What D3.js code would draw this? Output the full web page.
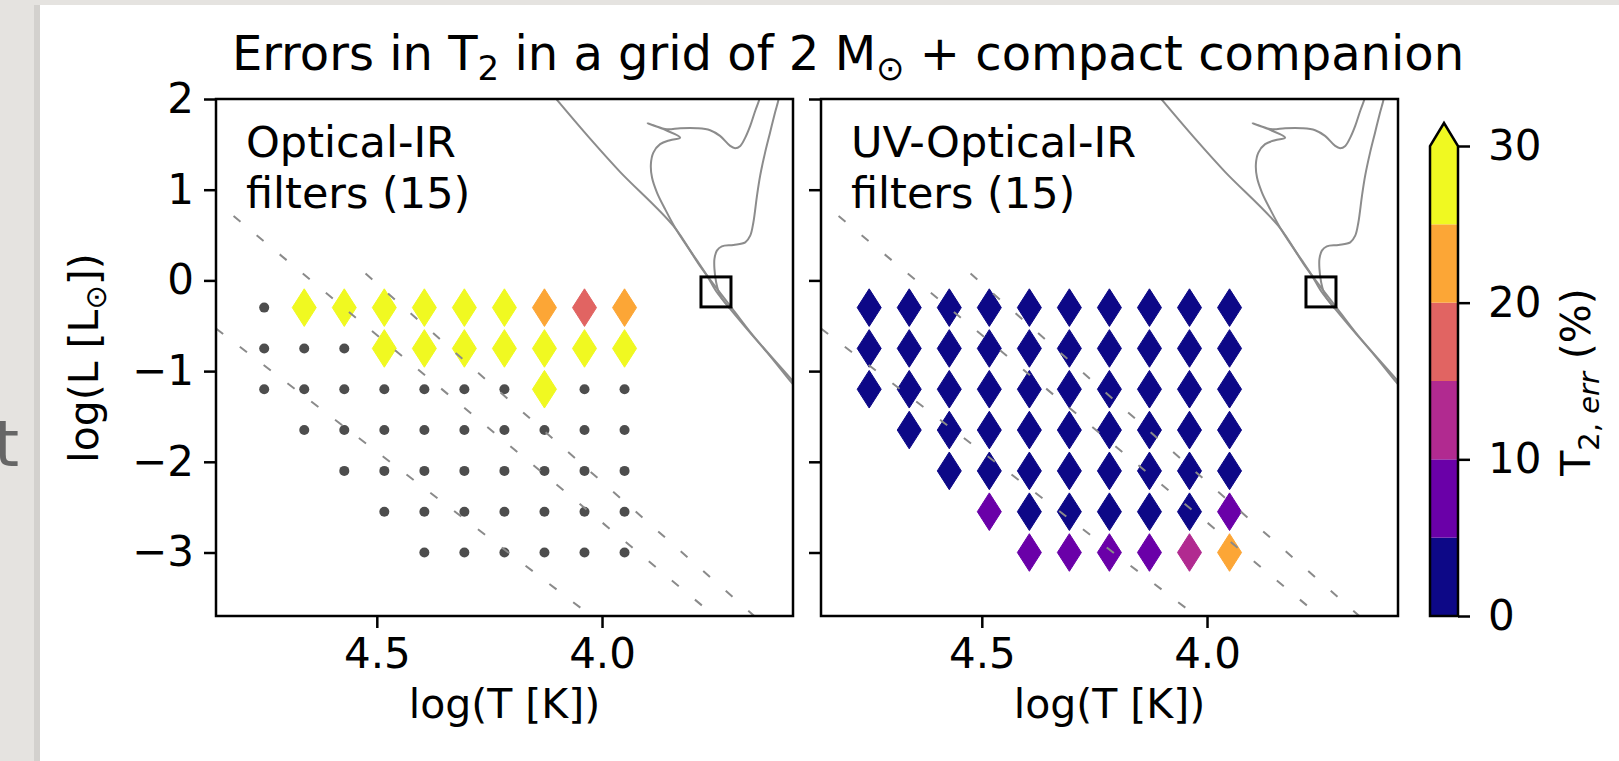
<!DOCTYPE html>
<html>
<head>
<meta charset="utf-8">
<script src="https://cdn.jsdelivr.net/npm/d3@7"></script>
<style>
  body { margin: 0; background: #e5e3e0; }
  svg { display: block; font-family: "DejaVu Sans", sans-serif; }
</style>
</head>
<body>
<svg id="chart" width="1619" height="761"></svg>
<script>
// grid of secondary temperatures / luminosities
var gridLogT = [4.75, 4.6611, 4.5722, 4.4833, 4.3944, 4.3056, 4.2167, 4.1278, 4.0389, 3.95];
var gridLogL = [-0.3, -0.75, -1.2, -1.65, -2.1, -2.55, -3.0];
// first column present in each row
var rowStart = [0, 0, 0, 1, 2, 3, 4];

// T2 errors (%) per grid point, null = fit not flagged (plotted as dot)
var errOpticalIR = [
  [null, 31, 33, 30, 29, 32, 28, 23.5, 18.2, 22.1],
  [null, null, null, 34, 31, 29, 30, 27.5, 28, 26.8],
  [null, null, null, null, null, null, null, 26.2, null, null],
  [null, null, null, null, null, null, null, null, null],
  [null, null, null, null, null, null, null, null],
  [null, null, null, null, null, null, null],
  [null, null, null, null, null, null],
];
var errUVOpticalIR = [
  [2.1, 1.8, 1.5, 1.4, 1.2, 1.3, 1.1, 1.6, 2.0, 2.4],
  [2.3, 1.9, 1.6, 1.5, 1.3, 1.2, 1.4, 1.7, 2.2, 2.8],
  [2.8, 2.2, 1.9, 1.7, 1.5, 1.6, 1.8, 2.1, 2.6, 3.3],
  [2.9, 2.4, 2.0, 1.9, 2.1, 2.3, 2.7, 3.1, 3.8],
  [3.4, 2.9, 2.6, 2.5, 2.8, 3.2, 3.9, 4.6],
  [6.2, 4.1, 3.7, 3.6, 3.9, 4.5, 7.8],
  [7.1, 6.8, 8.3, 9.2, 13.5, 22.4],
];

var binEdges = [0, 5, 10, 15, 20, 25, 30];
var binColors = ["#0d0887", "#6a00a8", "#b12a90", "#e16462", "#fca636", "#f0f921"];
var cbTicks = [0, 10, 20, 30];
var xTicks = [4.5, 4.0];
var yTicks = [2, 1, 0, -1, -2, -3];

// dashed constant-radius lines, [logT0, logL0, logT1, logL1]
var radiusLines = [
  [4.818, 0.71, 3.75, -3.7],
  [4.857, -0.53, 4.024, -3.7],
  [4.525, 0.075, 3.662, -3.7],
];

// evolutionary tracks, [logT, logL]
var trackZams = [[4.11, 2.05], [4.10, 1.99], [4.026, 1.56], [3.96, 1.197], [3.842, 0.603],
  [3.783, 0.163], [3.745, -0.09], [3.716, -0.277], [3.665, -0.607], [3.576, -1.113], [3.55, -1.27]];
var trackLoop = [[3.648, 2.05], [3.6505, 1.997], [3.66, 1.868], [3.671, 1.703], [3.682, 1.574],
  [3.693, 1.483], [3.7045, 1.458], [3.7155, 1.483], [3.738, 1.593], [3.76, 1.656], [3.789, 1.678],
  [3.8265, 1.678], [3.856, 1.667], [3.886, 1.711], [3.899, 1.733], [3.8635, 1.667], [3.8265, 1.574],
  [3.849, 1.546], [3.871, 1.502], [3.886, 1.409], [3.8915, 1.282], [3.889, 1.134], [3.878, 0.969],
  [3.86, 0.787], [3.838, 0.584], [3.812, 0.383], [3.789, 0.218], [3.767, 0.053], [3.745, -0.131],
  [3.7155, -0.314], [3.6785, -0.534], [3.634, -0.791], [3.579, -1.128], [3.55, -1.3]];
var trackCool = [[3.607, 2.05], [3.608, 1.997], [3.616, 1.849], [3.627, 1.629], [3.638, 1.409],
  [3.649, 1.153], [3.656, 0.933], [3.664, 0.639], [3.671, 0.493], [3.682, 0.419], [3.708, 0.391],
  [3.734, 0.375], [3.745, 0.328], [3.7504, 0.237], [3.7504, 0.127], [3.7466, -0.021], [3.7377, -0.167],
  [3.716, -0.31]];

var companionBox = [3.747, -0.127];

var panels = [
  { label: ["Optical-IR", "filters (15)"], errs: errOpticalIR, x0: 216, showY: true },
  { label: ["UV-Optical-IR", "filters (15)"], errs: errUVOpticalIR, x0: 821, showY: false },
];

var svg = d3.select("#chart");
var W = +svg.attr("width"), H = +svg.attr("height");
var pw = 577, plotTop = 99, plotBottom = 616;

// page card
svg.append("rect").attr("x", 0).attr("y", 0).attr("width", W).attr("height", H).attr("fill", "#e5e3e0");
svg.append("rect").attr("x", 34).attr("y", 5).attr("width", 8).attr("height", H).attr("fill", "#d3d1ce");
svg.append("rect").attr("x", 40).attr("y", 5).attr("width", W).attr("height", H).attr("fill", "#ffffff");
svg.append("text").attr("x", -6).attr("y", 466).attr("font-size", 64).attr("fill", "#666").text("t");

var y = d3.scaleLinear().domain([-3.7, 2]).range([plotBottom, plotTop]);
var colorOf = d3.scaleThreshold().domain(binEdges.slice(1, -1)).range(binColors);
var diamond = "M0,-18.8 L12,0 L0,18.8 L-12,0 Z";
var fmtY = d3.format("d");

svg.append("defs").selectAll("clipPath").data(panels).enter().append("clipPath")
  .attr("id", function (d, i) { return "clip" + i; })
  .append("rect").attr("x", function (d) { return d.x0; }).attr("y", plotTop)
  .attr("width", pw).attr("height", plotBottom - plotTop);

panels.forEach(function (p, pi) {
  var x = d3.scaleLinear().domain([4.857, 3.576]).range([p.x0, p.x0 + pw]);
  var g = svg.append("g");
  var plot = g.append("g").attr("clip-path", "url(#clip" + pi + ")");

  var pts = [];
  gridLogL.forEach(function (L, r) {
    p.errs[r].forEach(function (e, k) {
      pts.push({ T: gridLogT[rowStart[r] + k], L: L, e: e });
    });
  });

  plot.selectAll(".dot").data(pts.filter(function (d) { return d.e === null; }))
    .enter().append("circle").attr("class", "dot")
    .attr("cx", function (d) { return x(d.T); })
    .attr("cy", function (d) { return y(d.L); })
    .attr("r", 5).attr("fill", "#4d4d4d");

  plot.selectAll(".dia").data(pts.filter(function (d) { return d.e !== null; }))
    .enter().append("path").attr("class", "dia")
    .attr("d", diamond)
    .attr("transform", function (d) { return "translate(" + x(d.T) + "," + y(d.L) + ")"; })
    .attr("fill", function (d) { return colorOf(d.e); })
    .attr("stroke", function (d) { return colorOf(d.e); })
    .attr("stroke-width", 1).attr("stroke-linejoin", "round");

  plot.selectAll(".rline").data(radiusLines).enter().append("line")
    .attr("x1", function (d) { return x(d[0]); }).attr("y1", function (d) { return y(d[1]); })
    .attr("x2", function (d) { return x(d[2]); }).attr("y2", function (d) { return y(d[3]); })
    .attr("stroke", "#8a8a8a").attr("stroke-width", 2).attr("stroke-dasharray", "9,21");

  var line = d3.line().x(function (d) { return x(d[0]); }).y(function (d) { return y(d[1]); })
    .curve(d3.curveCatmullRom);
  [trackZams, trackLoop, trackCool].forEach(function (t) {
    plot.append("path").attr("d", line(t)).attr("fill", "none")
      .attr("stroke", "#8c8c8c").attr("stroke-width", 2);
  });

  plot.append("rect")
    .attr("x", x(companionBox[0]) - 15).attr("y", y(companionBox[1]) - 15)
    .attr("width", 30).attr("height", 30)
    .attr("fill", "none").attr("stroke", "#000").attr("stroke-width", 3);

  // axes
  var ax = g.append("g").attr("transform", "translate(0," + plotBottom + ")")
    .call(d3.axisBottom(x).tickValues(xTicks).tickFormat(d3.format(".1f")).tickSize(12).tickPadding(10));
  var ay = g.append("g").attr("transform", "translate(" + p.x0 + ",0)")
    .call(d3.axisLeft(y).tickValues(yTicks).tickFormat(p.showY ? fmtY : "").tickSize(12).tickPadding(10));
  [ax, ay].forEach(function (a) {
    a.select(".domain").remove();
    a.selectAll(".tick line").attr("stroke", "#000").attr("stroke-width", 2.5);
    a.selectAll(".tick text").attr("font-size", 42).attr("fill", "#000")
      .attr("font-family", "DejaVu Sans");
  });
  g.append("rect").attr("x", p.x0).attr("y", plotTop).attr("width", pw).attr("height", plotBottom - plotTop)
    .attr("fill", "none").attr("stroke", "#000").attr("stroke-width", 2.5);

  var lab = g.append("text").attr("x", p.x0 + 30).attr("y", 157).attr("font-size", 43);
  p.label.forEach(function (s, i) {
    lab.append("tspan").attr("x", p.x0 + 30).attr("dy", i ? 51 : 0).text(s);
  });

  g.append("text").attr("x", p.x0 + pw / 2).attr("y", 718).attr("text-anchor", "middle")
    .attr("font-size", 41).text("log(T [K])");
});

// y label
var yl = svg.append("text").attr("transform", "translate(98,358) rotate(-90)")
  .attr("text-anchor", "middle").attr("font-size", 41);
yl.append("tspan").text("log(L [L");
yl.append("tspan").attr("font-size", 29).attr("dy", 8).text("\u2299");
yl.append("tspan").attr("dy", -8).text("])");

// title
var tt = svg.append("text").attr("x", 848).attr("y", 70).attr("text-anchor", "middle").attr("font-size", 48);
tt.append("tspan").text("Errors in T");
tt.append("tspan").attr("font-size", 34).attr("dy", 10).text("2");
tt.append("tspan").attr("dy", -10).text(" in a grid of 2 M");
tt.append("tspan").attr("font-size", 34).attr("dy", 10).text("\u2299");
tt.append("tspan").attr("dy", -10).text(" + compact companion");

// colorbar
var cx0 = 1430, cx1 = 1458;
var cy = d3.scaleLinear().domain([0, 30]).range([plotBottom, 146]);
var cb = svg.append("g");
cb.selectAll("rect").data(binColors).enter().append("rect")
  .attr("x", cx0).attr("width", cx1 - cx0)
  .attr("y", function (d, i) { return cy(binEdges[i + 1]); })
  .attr("height", function (d, i) { return cy(binEdges[i]) - cy(binEdges[i + 1]); })
  .attr("fill", function (d) { return d; });
var tip = cy(30) - 23;
cb.append("path").attr("d", "M" + cx0 + "," + cy(30) + "L" + (cx0 + cx1) / 2 + "," + tip + "L" + cx1 + "," + cy(30) + "Z")
  .attr("fill", binColors[binColors.length - 1]);
cb.append("path")
  .attr("d", "M" + cx0 + "," + plotBottom + "V" + cy(30) + "L" + (cx0 + cx1) / 2 + "," + tip + "L" + cx1 + "," + cy(30) + "V" + plotBottom + "Z")
  .attr("fill", "none").attr("stroke", "#000").attr("stroke-width", 2.5).attr("stroke-linejoin", "miter");
var cax = cb.append("g").attr("transform", "translate(" + cx1 + ",0)")
  .call(d3.axisRight(cy).tickValues(cbTicks).tickFormat(d3.format("d")).tickSize(12).tickPadding(18));
cax.select(".domain").remove();
cax.selectAll(".tick line").attr("stroke", "#000").attr("stroke-width", 2.5);
cax.selectAll(".tick text").attr("font-size", 42).attr("fill", "#000").attr("font-family", "DejaVu Sans");

var cl = svg.append("text").attr("transform", "translate(1590,382) rotate(-90)")
  .attr("text-anchor", "middle").attr("font-size", 41);
cl.append("tspan").text("T");
cl.append("tspan").attr("font-size", 29).attr("dy", 9).text("2, ");
cl.append("tspan").attr("font-size", 29).attr("font-style", "italic").text("err");
cl.append("tspan").attr("dy", -9).text(" (%)");
</script>
</body>
</html>
